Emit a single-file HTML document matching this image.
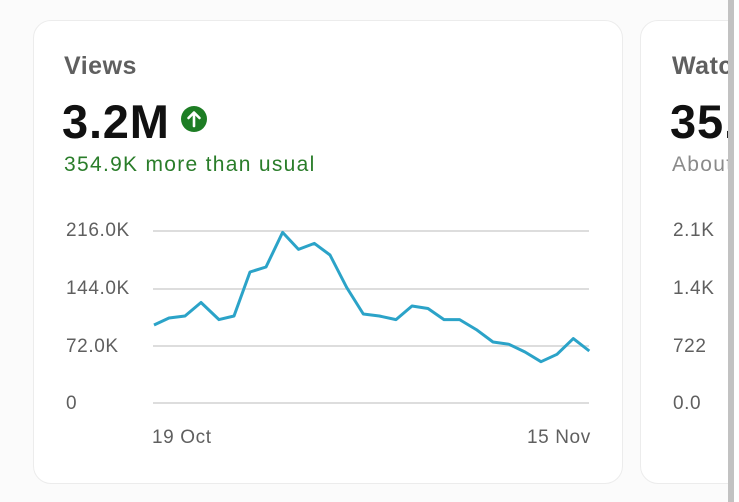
<!DOCTYPE html><html><head><style>
body{margin:0;width:739px;height:502px;background:#fbfbfb;overflow:hidden;position:relative;font-family:"Liberation Sans",sans-serif}
.card{position:absolute;top:20px;height:462px;background:#fff;border:1px solid #ececec;border-radius:18px}
.t{position:absolute;font-size:25px;color:#5f5f5f;font-weight:bold;letter-spacing:0.5px}
.big{position:absolute;font-size:47px;font-weight:bold;color:#111;letter-spacing:0.8px}
.sub{position:absolute;font-size:21px;letter-spacing:1.3px}
.lab{position:absolute;font-size:19px;color:#5f5f5f;letter-spacing:0.6px}
</style></head><body>
<div class="card" style="left:33px;width:588px"></div>
<div class="card" style="left:640px;width:200px"></div>
<div class="t" style="left:64px;top:52px">Views</div>
<div class="big" style="left:62px;top:94px">3.2M</div>
<svg style="position:absolute;left:180px;top:105px" width="28" height="28"><circle cx="14" cy="14" r="13" fill="#1d7d24"/><path d="M14 21V8M8.5 13L14 7.5 19.5 13" stroke="#fff" stroke-width="2.6" fill="none" stroke-linecap="round" stroke-linejoin="round"/></svg>
<div class="sub" style="left:64px;top:153px;color:#2a7d2a">354.9K more than usual</div>
<div class="lab" style="left:66px;top:220px">216.0K</div>
<div class="lab" style="left:66px;top:278px">144.0K</div>
<div class="lab" style="left:66px;top:336px">72.0K</div>
<div class="lab" style="left:66px;top:393px">0</div>
<div class="lab" style="left:152px;top:427px">19 Oct</div>
<div class="lab" style="left:527px;top:427px">15 Nov</div>
<svg style="position:absolute;left:0;top:0" width="739" height="502">
<g stroke="#dddddd" stroke-width="2"><line x1="153" y1="231" x2="589" y2="231"/><line x1="153" y1="289" x2="589" y2="289"/><line x1="153" y1="346" x2="589" y2="346"/><line x1="153" y1="403" x2="589" y2="403"/></g>
<polyline fill="none" stroke="#2ba3c8" stroke-width="3" stroke-linejoin="round" points="154,325 169,318 185,316 201,302.5 219,319.6 234,316 250,272 266,267 282.6,232.4 298.5,249.4 314.4,243.4 330,255 346.7,287.5 363.3,314 379.3,316 396,319.6 412,306 428,308.5 444,319.6 459.6,319.6 476.3,329.6 493,342 509,344.3 525,352 541,361.7 557,354.3 573.3,338.6 589.3,351"/>
<line x1="737" y1="314" x2="739" y2="314" stroke="#2ba3c8" stroke-width="3"/>
</svg>
<div class="t" style="left:672px;top:52px">Watch</div>
<div class="big" style="left:670px;top:94px">35.</div>
<div class="sub" style="left:672px;top:153px;color:#8a8a8a">About</div>
<div class="lab" style="left:673px;top:220px">2.1K</div>
<div class="lab" style="left:673px;top:278px">1.4K</div>
<div class="lab" style="left:673px;top:336px">722</div>
<div class="lab" style="left:673px;top:393px">0.0</div>
<div style="position:absolute;left:728px;top:0;width:6px;height:502px;background:#c2c2c2"></div>
<div style="position:absolute;left:734px;top:0;width:5px;height:502px;background:#fff"></div>
</body></html>
